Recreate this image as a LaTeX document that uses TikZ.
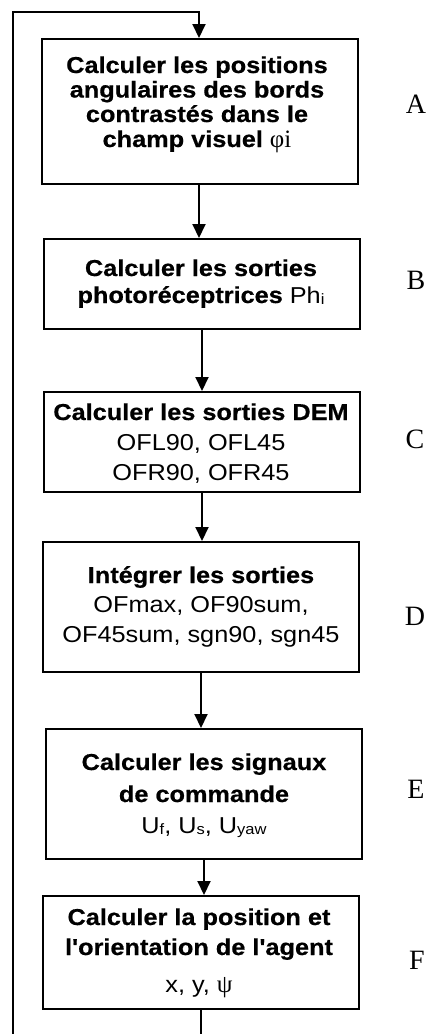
\documentclass[tikz,border=0pt]{standalone}
\usepackage{fontspec}
\usetikzlibrary{arrows.meta}
\newfontfamily\boxsans[FakeStretch=1.1, BoldFeatures={FakeBold=0.6}]{Liberation Sans}
\newfontfamily\boxserif{Liberation Serif}
\newcommand\sm[1]{\raisebox{-1pt}{\fontsize{15}{15}\selectfont #1}}
\newcommand\grk[1]{{\fontsize{25}{25}\selectfont\mdseries\boxserif #1}}
\tikzset{
  box/.style={draw, line width=2pt, inner sep=0pt},
  bl/.style={anchor=base, inner sep=0pt, font=\fontsize{23}{25}\selectfont\boxsans\bfseries},
  nl/.style={anchor=base, inner sep=0pt, font=\fontsize{23}{25}\selectfont\boxsans},
  lab/.style={anchor=center, inner sep=0pt, font=\fontsize{28}{30}\selectfont\boxserif},
  arr/.style={-{Triangle[length=14pt,width=13pt]}, line width=2pt},
}
\begin{document}
\begin{tikzpicture}[x=1pt,y=-1pt]
\useasboundingbox (0,0) rectangle (429,1034);
\clip (0,0) rectangle (429,1034);
% boxes
\node[box, minimum width=316pt, minimum height=145pt] (A) at (200,111.5) {};
\node[box, minimum width=316pt, minimum height=90pt] (B) at (202,284) {};
\node[box, minimum width=316pt, minimum height=100pt] (C) at (202,442) {};
\node[box, minimum width=316pt, minimum height=130pt] (D) at (201,607) {};
\node[box, minimum width=316pt, minimum height=130pt] (E) at (204,794) {};
\node[box, minimum width=316pt, minimum height=113pt] (F) at (201,952.5) {};
% texts
\node[bl] (a1) at (197,73) {Calculer les positions};
\node[bl] (a2) at (197,97.5) {angulaires des bords};
\node[bl] (a3) at (197,122) {contrastés dans le};
\node[bl] (a4) at (197,147) {champ visuel \grk{φi}};
\node[bl] (b1) at (201,276) {Calculer les sorties};
\node[bl] (b2) at (201,303) {photoréceptrices {\mdseries Ph\sm{i}}};
\node[bl] (c1) at (201,420) {Calculer les sorties DEM};
\node[nl] (c2) at (201,450) {OFL90, OFL45};
\node[nl] (c3) at (201,480) {OFR90, OFR45};
\node[bl] (d1) at (201,583) {Intégrer les sorties};
\node[nl] (d2) at (201,612) {OFmax, OF90sum,};
\node[nl] (d3) at (201,642) {OF45sum, sgn90, sgn45};
\node[bl] (e1) at (204,770) {Calculer les signaux};
\node[bl] (e2) at (204,802) {de commande};
\node[nl] (e3) at (204,833) {U\sm{f}, U\sm{s}, U\sm{yaw}};
\node[bl] (f1) at (199,925) {Calculer la position et};
\node[bl] (f2) at (199,955) {l'orientation de l'agent};
\node[nl] (f3) at (199,992) {x, y, \grk{ψ}};
% side labels
\node[lab] (LA) at (416,104) {A};
\node[lab] (LB) at (416,280) {B};
\node[lab] (LC) at (415,439) {C};
\node[lab] (LD) at (415,616) {D};
\node[lab] (LE) at (416,789) {E};
\node[lab] (LF) at (417,960) {F};
% connectors
\draw[arr] ([xshift=-1pt]A.south) -- ([xshift=-1pt]A.south |- B.north);
\draw[arr] (B.south) -- (B.south |- C.north);
\draw[arr] (C.south) -- (C.south |- D.north);
\draw[arr] (D.south) -- (D.south |- E.north);
\draw[arr] (E.south) -- (E.south |- F.north);
\coordinate (loopbot) at (13,1060);
\coordinate (looptop) at (13,12);
\draw[arr] (F.south) |- (loopbot) -- (looptop) -| ([xshift=-1pt]A.north);
\end{tikzpicture}
\end{document}
